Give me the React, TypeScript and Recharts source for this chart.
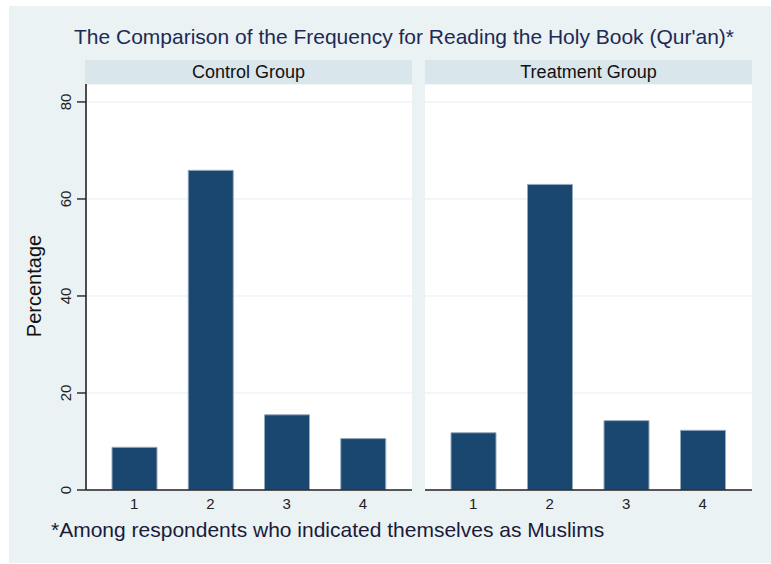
import { BarChart, Bar, XAxis, YAxis, CartesianGrid } from 'recharts';

const categories = ['1', '2', '3', '4'];
const controlValues = [8.8, 65.9, 15.5, 10.6];
const treatmentValues = [11.8, 63.0, 14.3, 12.3];
const yTicks = [0, 20, 40, 60, 80];

const controlData = categories.map((c, i) => ({ cat: c, value: controlValues[i] }));
const treatmentData = categories.map((c, i) => ({ cat: c, value: treatmentValues[i] }));

const FONT = '"Liberation Sans", Arial, Helvetica, sans-serif';
const BAR = '#1A476F';
const AXIS = '#222';
const Y_MAX = 83.7;

const styles = {
  page: {
    position: 'absolute' as const,
    left: 0,
    top: 0,
    width: 771,
    height: 564,
    background: '#fff',
    fontFamily: FONT,
  },
  backdrop: {
    position: 'absolute' as const,
    left: 9,
    top: 6,
    width: 762,
    height: 557,
    background: '#EAF2F3',
  },
  title: {
    position: 'absolute' as const,
    left: 0,
    width: 808,
    top: 25,
    textAlign: 'center' as const,
    fontSize: 21,
    color: '#1e2a55',
    lineHeight: '24px',
    whiteSpace: 'nowrap' as const,
  },
  header: {
    position: 'absolute' as const,
    top: 60,
    width: 327,
    height: 24,
    background: '#D9E6EB',
    textAlign: 'center' as const,
    fontSize: 18,
    lineHeight: '24px',
    color: '#111',
  },
  yLabel: {
    position: 'absolute' as const,
    left: 34,
    top: 286,
    transform: 'translate(-50%, -50%) rotate(-90deg)',
    fontSize: 20,
    color: '#111',
    whiteSpace: 'nowrap' as const,
  },
  note: {
    position: 'absolute' as const,
    left: 51,
    top: 518,
    fontSize: 21,
    color: '#1a1a3a',
    lineHeight: '24px',
    whiteSpace: 'nowrap' as const,
  },
};

function YTick(props: any) {
  const { x, y, payload } = props;
  const tx = x - 4;
  return (
    <text
      x={tx}
      y={y}
      transform={`rotate(-90 ${tx} ${y})`}
      textAnchor="middle"
      fontSize={15}
      fill={AXIS}
      fontFamily={FONT}
    >
      {payload.value}
    </text>
  );
}

interface PanelProps {
  data: { cat: string; value: number }[];
  showY: boolean;
  width: number;
}

function Panel({ data, showY, width }: PanelProps) {
  return (
    <BarChart
      width={width}
      height={440}
      data={data}
      margin={{ top: 0, right: 0, bottom: 0, left: 0 }}
      barCategoryGap={0}
    >
      <CartesianGrid vertical={false} stroke="#E4EEF1" fill="#fff" />
      <XAxis
        dataKey="cat"
        tickLine={false}
        axisLine={{ stroke: AXIS, strokeWidth: 1.6 }}
        height={34}
        padding={{ left: 10, right: 11 }}
        tick={{ fontSize: 15, fill: AXIS, fontFamily: FONT }}
        tickMargin={2}
        interval={0}
      />
      <YAxis
        hide={!showY}
        domain={[0, Y_MAX]}
        ticks={yTicks}
        width={86}
        tickSize={9}
        axisLine={{ stroke: AXIS, strokeWidth: 1.6 }}
        tickLine={{ stroke: AXIS, strokeWidth: 1.4 }}
        tick={<YTick />}
        allowDataOverflow
      />
      <Bar
        dataKey="value"
        fill={BAR}
        stroke="#95a9bd"
        strokeWidth={1}
        barSize={45}
        isAnimationActive={false}
      />
    </BarChart>
  );
}

export default function App() {
  return (
    <div style={styles.page}>
      <div style={styles.backdrop} />
      <div style={styles.title}>
        The Comparison of the Frequency for Reading the Holy Book (Qur'an)*
      </div>
      <div style={{ ...styles.header, left: 85 }}>Control Group</div>
      <div style={{ ...styles.header, left: 425 }}>Treatment Group</div>
      <div style={{ position: 'absolute', left: 0, top: 84 }}>
        <Panel data={controlData} showY width={412} />
      </div>
      <div style={{ position: 'absolute', left: 425, top: 84 }}>
        <Panel data={treatmentData} showY={false} width={327} />
      </div>
      <div style={styles.yLabel}>Percentage</div>
      <div style={styles.note}>*Among respondents who indicated themselves as Muslims</div>
    </div>
  );
}
